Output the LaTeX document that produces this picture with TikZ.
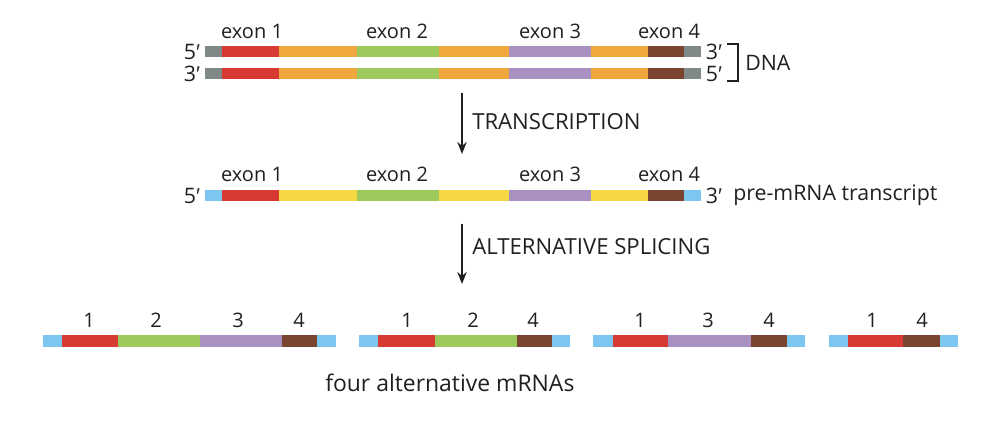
\documentclass[tikz,border=0pt]{standalone}
\usepackage{fontspec}
\setmainfont{Open Sans}
\newfontfamily\primefont{Liberation Sans}
\newcommand{\pr}{{\primefont ′}}
\usetikzlibrary{arrows.meta}
\definecolor{cgrey}{HTML}{7F8A88}
\definecolor{cred}{HTML}{D63A33}
\definecolor{corange}{HTML}{F0A83E}
\definecolor{cgreen}{HTML}{9DC85C}
\definecolor{cpurple}{HTML}{A890C0}
\definecolor{cbrown}{HTML}{7A4530}
\definecolor{cyellow}{HTML}{F6D845}
\definecolor{cblue}{HTML}{7CC6EF}
\definecolor{ctext}{HTML}{231F20}
\begin{document}
\begin{tikzpicture}[x=0.75pt,y=-0.75pt,
  lbl/.style={inner sep=0pt,text=ctext,font=\fontsize{15}{17}\selectfont},
  endlbl/.style={lbl,font=\fontsize{16}{18}\selectfont},
  steplbl/.style={lbl,anchor=west,font=\fontsize{16.6}{18}\selectfont},
  steparrow/.style={line width=1.4pt,-{Stealth[length=9pt,width=7pt]},ctext},
  brk/.style={line width=0.8pt,ctext}]
\useasboundingbox[fill=white] (0,0) rectangle (1002,438);
% --- DNA strand helper
\newcommand{\seg}[4]{\fill[#4] (#1,#2) rectangle (#3,#2+11.5);}
\foreach \yy in {46,68}{
  \seg{205}{\yy}{222}{cgrey}
  \seg{222}{\yy}{279}{cred}
  \seg{279}{\yy}{357}{corange}
  \seg{357}{\yy}{439}{cgreen}
  \seg{439}{\yy}{509}{corange}
  \seg{509}{\yy}{591}{cpurple}
  \seg{591}{\yy}{648}{corange}
  \seg{648}{\yy}{684}{cbrown}
  \seg{684}{\yy}{701}{cgrey}
}
\node[lbl] (e1) at (252,31) {exon 1};
\node[lbl] (e2) at (397,31) {exon 2};
\node[lbl] (e3) at (550,31) {exon 3};
\node[lbl] (e4) at (669,31) {exon 4};
\node[endlbl] (d5l) at (192,52) {5\pr};
\node[endlbl] (d3l) at (192,74) {3\pr};
\node[endlbl] (d3r) at (714,52) {3\pr};
\node[endlbl] (d5r) at (714,74) {5\pr};
\coordinate (b1) at (727,44);
\coordinate (b2) at (738,44);
\coordinate (b3) at (738,81);
\coordinate (b4) at (727,81);
\draw[brk] (b1) -- (b2) -- (b3) -- (b4);
\node[endlbl,anchor=west] (dna) at (745,63) {DNA};
% --- transcription arrow
\coordinate (a1s) at (462,93);
\coordinate (a1e) at (462,154);
\draw[steparrow] (a1s) -- (a1e);
\node[steplbl] (tr) at (472,122) {TRANSCRIPTION};
% --- pre-mRNA
\seg{205}{190}{222}{cblue}
\seg{222}{190}{279}{cred}
\seg{279}{190}{357}{cyellow}
\seg{357}{190}{439}{cgreen}
\seg{439}{190}{509}{cyellow}
\seg{509}{190}{591}{cpurple}
\seg{591}{190}{648}{cyellow}
\seg{648}{190}{684}{cbrown}
\seg{684}{190}{701}{cblue}
\node[lbl] (p1) at (252,174) {exon 1};
\node[lbl] (p2) at (397,174) {exon 2};
\node[lbl] (p3) at (550,174) {exon 3};
\node[lbl] (p4) at (669,174) {exon 4};
\node[endlbl] (p5l) at (192,196) {5\pr};
\node[endlbl] (p3r) at (714,196) {3\pr};
\node[endlbl,anchor=west] (pre) at (733,195) {pre-mRNA transcript};
% --- splicing arrow
\coordinate (a2s) at (462,224);
\coordinate (a2e) at (462,284);
\draw[steparrow] (a2s) -- (a2e);
\node[steplbl] (as) at (472,247) {ALTERNATIVE SPLICING};
% --- mRNAs
\def\my{335}
\seg{43}{\my}{62}{cblue}
\seg{62}{\my}{118}{cred}
\seg{118}{\my}{200}{cgreen}
\seg{200}{\my}{282}{cpurple}
\seg{282}{\my}{317}{cbrown}
\seg{317}{\my}{336}{cblue}
\node[lbl] (m11) at (89,320) {1};
\node[lbl] (m12) at (156,320) {2};
\node[lbl] (m13) at (238,320) {3};
\node[lbl] (m14) at (299,320) {4};
\seg{359}{\my}{378}{cblue}
\seg{378}{\my}{435}{cred}
\seg{435}{\my}{517}{cgreen}
\seg{517}{\my}{552}{cbrown}
\seg{552}{\my}{570}{cblue}
\node[lbl] (m21) at (407,320) {1};
\node[lbl] (m22) at (473,320) {2};
\node[lbl] (m24) at (533,320) {4};
\seg{593}{\my}{613}{cblue}
\seg{613}{\my}{668}{cred}
\seg{668}{\my}{751}{cpurple}
\seg{751}{\my}{787}{cbrown}
\seg{787}{\my}{805}{cblue}
\node[lbl] (m31) at (640,320) {1};
\node[lbl] (m33) at (708,320) {3};
\node[lbl] (m34) at (769,320) {4};
\seg{829}{\my}{848}{cblue}
\seg{848}{\my}{903}{cred}
\seg{903}{\my}{940}{cbrown}
\seg{940}{\my}{958}{cblue}
\node[lbl] (m41) at (872,320) {1};
\node[lbl] (m44) at (922,320) {4};
\node[lbl,anchor=west,font=\fontsize{17.2}{19}\selectfont] (four) at (325,383) {four alternative mRNAs};
\end{tikzpicture}
\end{document}
